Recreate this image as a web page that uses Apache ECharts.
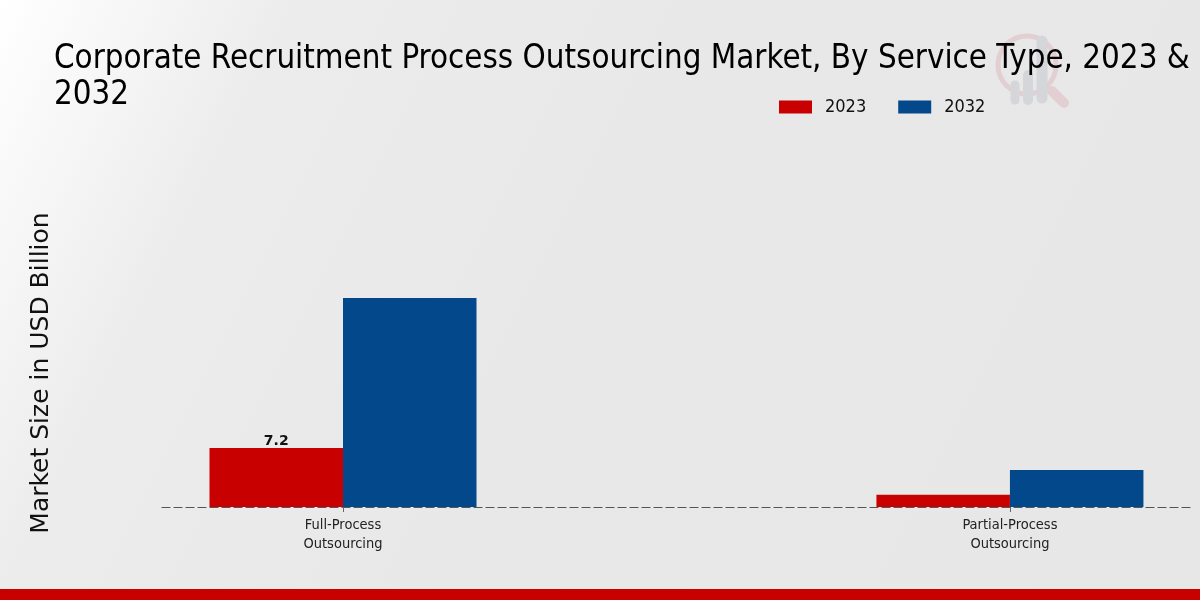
<!DOCTYPE html>
<html><head><meta charset="utf-8">
<style>html,body{margin:0;padding:0;background:#e6e6e6}#c{width:1200px;height:600px}</style>
<script src="https://cdn.jsdelivr.net/npm/echarts@6/dist/echarts.min.js"></script></head>
<body><div id="c"></div>
<script>
const titleText = "Corporate Recruitment Process Outsourcing Market, By Service Type, 2023 &\n2032";
const yAxisName = "Market Size in USD Billion";
const categories = ["Full-Process\nOutsourcing", "Partial-Process\nOutsourcing"];
const years = ["2023", "2032"];
const values2023 = [7.2, 1.5];
const values2032 = [25.5, 4.5];
const dataLabels2023 = ["7.2", ""];
const COND = '"DejaVu Sans Condensed","DejaVu Sans"';
const chart = echarts.init(document.getElementById('c'), null, {renderer:'canvas'});
const toPts = a => a.map((v,i)=>[i,v]);
chart.setOption({
  animation:false,
  backgroundColor:{type:'linear',x:0,y:0,x2:1,y2:1,colorStops:[{offset:0,color:'#ffffff'},{offset:0.2,color:'#ececec'},{offset:0.5,color:'#e8e8e9'},{offset:1,color:'#e7e7e7'}]},
  title:{text:titleText,left:54,top:36,padding:[5,0,5,0],textStyle:{fontFamily:COND,fontWeight:'normal',fontSize:32.8,lineHeight:36,color:'#000'}},
  legend:{top:93,left:774,itemWidth:33,itemHeight:13,itemGap:32,icon:'rect',
    textStyle:{fontFamily:COND,fontSize:18,color:'#111',padding:[0,0,0,8]},data:years},
  grid:{left:162,right:10,top:239,bottom:93},
  xAxis:{type:'value',min:-0.2714,max:1.27,splitLine:{show:false},
    axisLine:{show:true,onZero:false,lineStyle:{color:'#555',type:[8,4],width:1.2}},
    axisTick:{show:true,customValues:[0,1],length:5,lineStyle:{color:'#666'}},
    axisLabel:{customValues:[0,1],formatter:(v)=>categories[Math.round(v)]||'',fontFamily:COND,fontSize:14.5,lineHeight:19,color:'#222',margin:9,hideOverlap:false}},
  yAxis:{type:'value',min:0,max:32.68,name:yAxisName,nameLocation:'middle',nameGap:108,
    nameTextStyle:{fontFamily:'DejaVu Sans',fontSize:25,color:'#111'},
    axisLine:{show:false},axisTick:{show:false},axisLabel:{show:false},splitLine:{show:false}},
  series:[
    {name:years[0],type:'bar',data:toPts(values2023),barWidth:133.5,barGap:0,itemStyle:{color:'#c80000'},
      label:{show:true,position:'top',distance:0,fontFamily:'DejaVu Sans',fontWeight:'bold',fontSize:14,color:'#111',
        formatter:p=>dataLabels2023[p.dataIndex]}},
    {name:years[1],type:'bar',data:toPts(values2032),barWidth:133.5,barGap:0,itemStyle:{color:'#03488a'}}
  ],
  graphic:[
    {type:'rect',x:0,y:589,shape:{width:1200,height:11},style:{fill:'#c80000'},z:10},
    {type:'group',x:0,y:0,z:-1,silent:true,children:[
      {type:'circle',shape:{cx:1027,cy:65,r:29},style:{fill:'none',stroke:'#e2cfd2',lineWidth:5}},
      {type:'line',shape:{x1:1052,y1:91,x2:1064,y2:103},style:{stroke:'#e2cfd2',lineWidth:10,lineCap:'round'}},
      {type:'line',shape:{x1:1015,y1:85,x2:1015,y2:100},style:{stroke:'#d4d6d9',lineWidth:9,lineCap:'round'}},
      {type:'line',shape:{x1:1028,y1:75,x2:1028,y2:100},style:{stroke:'#d4d6d9',lineWidth:10,lineCap:'round'}},
      {type:'line',shape:{x1:1042,y1:41,x2:1042,y2:98},style:{stroke:'#d4d6d9',lineWidth:11,lineCap:'round'}}
    ]}
  ]
});
</script></body></html>
